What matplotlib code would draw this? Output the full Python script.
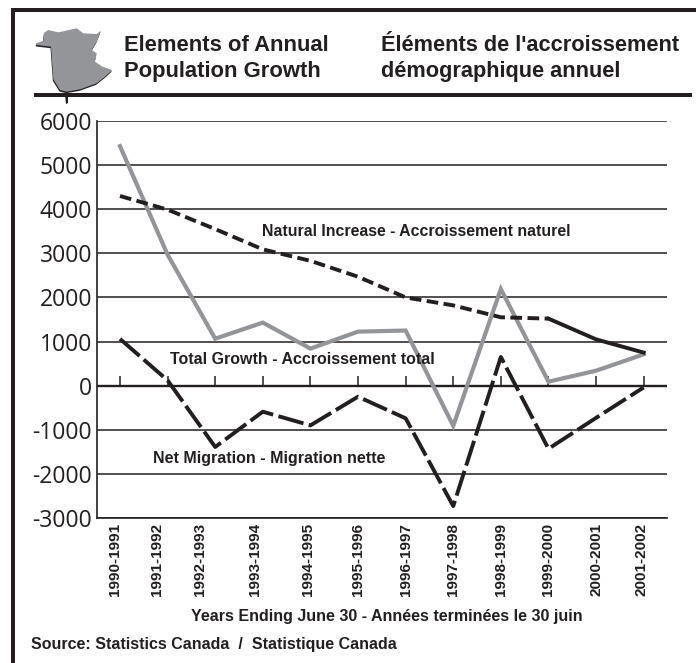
import matplotlib
matplotlib.use("Agg")
import matplotlib.pyplot as plt
from matplotlib.patches import Polygon, Rectangle
from matplotlib.transforms import ScaledTranslation

W, H = 696, 663
INK = "#231f20"
GREY = "#939598"

years = ["1990-1991", "1991-1992", "1992-1993", "1993-1994", "1994-1995", "1995-1996",
         "1996-1997", "1997-1998", "1998-1999", "1999-2000", "2000-2001", "2001-2002"]
total_growth = [5430, 2970, 1065, 1430, 840, 1225, 1250, -910, 2190, 90, 340, 710]
natural_increase = [4300, 3990, 3550, 3090, 2830, 2470, 2000, 1820, 1550, 1520, 1050, 750]
net_migration = [1060, 120, -1390, -590, -900, -250, -740, -2730, 650, -1430, -730, -40]
y_ticks = [-3000, -2000, -1000, 0, 1000, 2000, 3000, 4000, 5000, 6000]
label_shift_px = [-5, -11, -15, -8, -2, 0, 0, 0, 0, 0, 0, -2]

BOLD = dict(family="Liberation Sans", fontweight="bold", color=INK)

fig = plt.figure(figsize=(W / 100, H / 100), dpi=100, facecolor="white")
ax = fig.add_axes([97 / W, 1 - 518 / H, (667 - 97) / W, (518 - 121) / H])
ax.set_xlim(-0.483, 11.49)
ax.set_ylim(-3000, 6000)
ax.patch.set_alpha(0)
for s in ("top", "right"):
    ax.spines[s].set_visible(False)
for s in ("left", "bottom"):
    ax.spines[s].set_linewidth(1.2)
    ax.spines[s].set_color(INK)

ax.set_yticks(y_ticks)
ax.set_yticklabels([str(v) for v in y_ticks], family="Open Sans", fontsize=16.5, color=INK)
ax.grid(axis="y", color=INK, lw=1.1)
ax.grid(axis="x", visible=False)
ax.set_axisbelow(True)
ax.axhline(0, color=INK, lw=1.7, zorder=1)
xs = list(range(len(years)))
ax.vlines(xs, 0, 210, color=INK, lw=1.1, zorder=1)
ax.tick_params(axis="y", length=0, pad=3.5)

ax.set_xticks(xs)
ax.set_xticklabels(years, rotation=90, ha="center", va="top", **BOLD, fontsize=11)
ax.tick_params(axis="x", length=0, pad=3.6)
for lab, dx in zip(ax.get_xticklabels(), label_shift_px):
    lab.set_transform(lab.get_transform() + ScaledTranslation(dx / 100, 0, fig.dpi_scale_trans))

ax.plot(xs, total_growth, color=GREY, lw=3.0, zorder=3, solid_joinstyle="miter")
ax.plot(xs[:10], natural_increase[:10], color=INK, lw=2.8, zorder=4, dashes=(3, 1.4), dash_capstyle="butt")
ax.plot(xs[9:], natural_increase[9:], color=INK, lw=2.8, zorder=4)
ax.plot(xs, net_migration, color=INK, lw=2.8, zorder=4, dashes=(6.7, 1.4), dash_capstyle="butt")

# Page furniture drawn in pixel coordinates
ov = fig.add_axes([0, 0, 1, 1], zorder=5)
ov.set_xlim(0, W)
ov.set_ylim(H, 0)
ov.axis("off")
ov.patch.set_alpha(0)

ov.add_patch(Rectangle((11, 8), W - 11, 4, color=INK, lw=0))
ov.add_patch(Rectangle((11, 8), 4, H - 8, color=INK, lw=0))

map_zoom = [(33, 70), (55, 62), (58, 38), (70, 30), (100, 37), (155, 25), (175, 40), (215, 42), (228, 32),
            (215, 65), (200, 90), (215, 100), (210, 125), (232, 140), (262, 150), (240, 170), (215, 190),
            (165, 208), (125, 215), (105, 210), (85, 178), (78, 80), (35, 75)]
map_px = [(25 + x / 3, 20 + y / 3) for x, y in map_zoom]
ov.add_patch(Polygon([(x - 0.5, y + 1.5) for x, y in map_px], color=INK, lw=0))
ov.add_patch(Polygon(map_px, color=GREY, lw=0))
ov.add_patch(Rectangle((34, 93), 658, 4, color=INK, lw=0))
ov.add_patch(Polygon([(65, 95), (68, 95), (68, 103), (66, 104)], color=INK, lw=0))

def T(x, y, s, size, va="center", **kw):
    ov.text(x, y, s, fontsize=size, va=va, ha="left", **BOLD, **kw)

T(124, 50.7, "Elements of Annual", 15.8, va="baseline")
T(124, 77, "Population Growth", 15.8, va="baseline")
T(381, 50.7, "Éléments de l'accroissement", 15.7, va="baseline")
T(381, 77, "démographique annuel", 15.7, va="baseline")
T(262, 232, "Natural Increase - Accroissement naturel", 11.45)
T(170, 359, "Total Growth - Accroissement total", 11.55)
T(153, 458, "Net Migration - Migration nette", 11.55)
T(191, 616, "Years Ending June 30 - Années terminées le 30 juin", 11.55)
T(31, 645, "Source: Statistics Canada  /  Statistique Canada", 11.5)

fig.savefig("out.png", dpi=100)
